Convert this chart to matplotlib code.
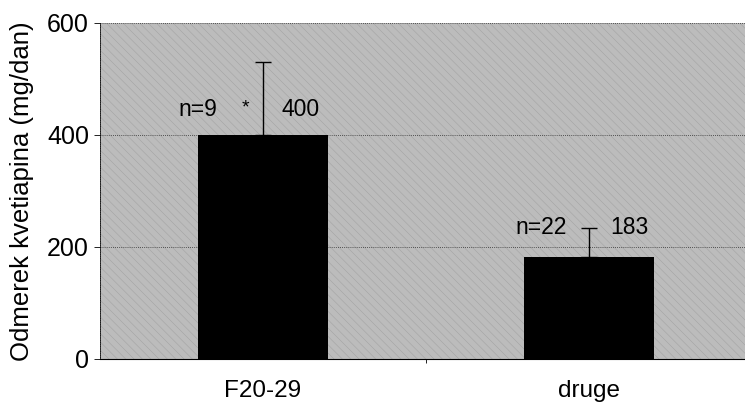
import matplotlib
matplotlib.use("Agg")
import matplotlib as mpl
import matplotlib.pyplot as plt

categories = ["F20-29", "druge"]
means = [400, 183]
err_upper = [130, 51]
n_labels = ["n=9", "n=22"]
value_labels = ["400", "183"]
yticks = [0, 200, 400, 600]

plt.rcParams['font.family'] = ['Liberation Sans', 'DejaVu Sans']
mpl.rcParams['hatch.linewidth'] = 0.4
fig = plt.figure(figsize=(7.45, 4.04), dpi=100)
ax = fig.add_axes([100/745, 1-359/404, 652/745, 336/404])
ax.set_facecolor('#bcbcbc')
ax.add_patch(plt.Rectangle((0, 0), 1, 1, transform=ax.transAxes, facecolor='none',
                           edgecolor='#a4a4a4', hatch='\\\\\\\\', linewidth=0, zorder=0))

x = [0.5, 1.5]
ax.bar(x, means, width=0.4, color='black', zorder=3)
ax.errorbar(x, means, yerr=[[0, 0], err_upper], fmt='none', ecolor='black',
            elinewidth=1, capsize=6, capthick=1, zorder=4)

n_off = [-0.2, -0.147]
v_off = [0.115, 0.125]
y_off = [45, 51]
for xi, nl, vl, m, no, vo, yo in zip(x, n_labels, value_labels, means, n_off, v_off, y_off):
    ax.text(xi + no, m + yo, nl, ha='center', va='center', fontsize=16.5, zorder=5)
    ax.text(xi + vo, m + yo, vl, ha='center', va='center', fontsize=16.5, zorder=5)
ax.text(x[0] - 0.055, 400 + 48, "*", ha='center', va='center', fontsize=14, zorder=5)

ax.set_xlim(0, 2)
ax.set_ylim(0, 600)
ax.set_yticks(yticks)
ax.set_yticklabels([str(t) for t in yticks], fontsize=18)
ax.set_xticks(x)
ax.set_xticklabels(categories, fontsize=17.5)
ax.tick_params(axis='x', length=0, pad=15)
ax.tick_params(axis='y', length=4, width=0.6, pad=4)
ax.set_xticks([1.0], minor=True)
ax.tick_params(axis='x', which='minor', length=3, width=0.6)
for t in [200, 400, 600]:
    ax.axhline(t, color='#303030', linestyle=(0, (1, 1.5)), linewidth=0.6, zorder=2)
for s in ['top', 'right']:
    ax.spines[s].set_visible(False)
ax.spines['left'].set_linewidth(0.6)
ax.spines['left'].set_linestyle((0, (1, 1.2)))
ax.spines['bottom'].set_linewidth(0.8)
ax.spines['bottom'].set_linestyle((0, (2, 1)))
ax.set_ylabel("Odmerek kvetiapina (mg/dan)", fontsize=18.5, labelpad=9)

fig.savefig("out.png", dpi=100)
